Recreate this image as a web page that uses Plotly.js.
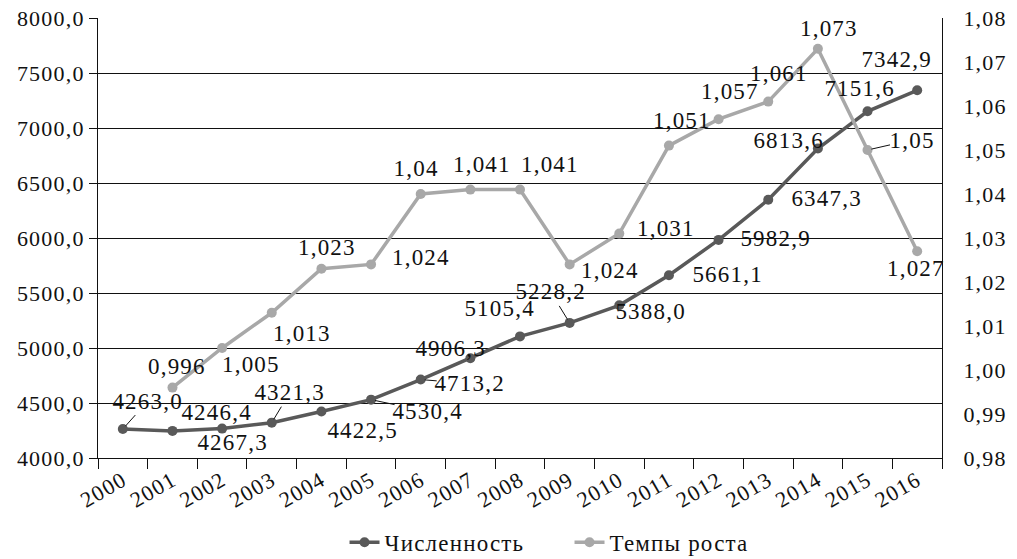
<!DOCTYPE html>
<html>
<head>
<meta charset="utf-8">
<script src="https://cdn.plot.ly/plotly-3.0.1.min.js"></script>
<style>html,body{margin:0;padding:0;background:#fff;}#chart{width:1017px;height:559px;}
#chart svg text{letter-spacing:1.2px;}</style>
</head>
<body>
<div id="chart"></div>
<script>
const years = ['2000','2001','2002','2003','2004','2005','2006','2007','2008','2009','2010','2011','2012','2013','2014','2015','2016'];
const population = [4263.0,4246.4,4267.3,4321.3,4422.5,4530.4,4713.2,4906.3,5105.4,5228.2,5388.0,5661.1,5982.9,6347.3,6813.6,7151.6,7342.9];
const growth = [null,0.996,1.005,1.013,1.023,1.024,1.04,1.041,1.041,1.024,1.031,1.051,1.057,1.061,1.073,1.05,1.027];
const seriesNames = ['Численность','Темпы роста'];

// label placement (pixel offsets dx, dy from point; leader line flag)
const popLabelPos = [[25,-28,1],[45,-18,0],[10,14,0],[18,-30,1],[41,19,0],[57,12,1],[49,4,1],[-20,-10,1],[-20,-28,0],[-19,-31,1],[31,6,0],[59,-1,0],[57,-1,0],[58,-1,0],[-29,-8,0],[-8,-23,0],[-21,-31,0]];
const growthLabelPos = [null,[5,-21,0],[29,16,0],[30,21,0],[6,-21,0],[50,-7,0],[-4,-26,0],[12,-25,0],[30,-25,0],[40,6,0],[47,-5,0],[13,-25,0],[11,-28,0],[11,-28,0],[11,-20,0],[44,-10,1],[-1,17,0]];

const FONT = "'Liberation Serif', serif";
const FS = 22;
const DARK = '#595959', LIGHT = '#a8a8a8';

function fmt(v){ return String(v).replace('.', ','); }
function fmt1(v){ return v.toFixed(1).replace('.', ','); }

const annotations = [];
function addLabels(vals, pos, yref, textFn){
  vals.forEach((v,i)=>{
    if (v === null || !pos[i]) return;
    const [dx,dy,lead] = pos[i];
    const a = {x: i, y: v, xref:'x', yref: yref, text: textFn(v),
      font:{family:FONT,size:FS+1,color:'#111'}};
    if (lead){
      Object.assign(a,{showarrow:true, ax:dx, ay:dy, arrowhead:0, arrowwidth:1, arrowcolor:'#111', standoff:4});
    } else {
      Object.assign(a,{showarrow:false, xshift:dx, yshift:-dy});
    }
    annotations.push(a);
  });
}
addLabels(population, popLabelPos, 'y', fmt1);
addLabels(growth, growthLabelPos, 'y2', fmt);

const traces = [
  {x: years, y: population, name: seriesNames[0], type:'scatter', mode:'lines+markers',
   line:{color:DARK,width:3.5}, marker:{color:DARK,size:10}, yaxis:'y'},
  {x: years, y: growth, name: seriesNames[1], type:'scatter', mode:'lines+markers',
   line:{color:LIGHT,width:3.5}, marker:{color:LIGHT,size:10}, yaxis:'y2', connectgaps:false}
];

const layout = {
  width:1017, height:559,
  margin:{l:98, r:75, t:18, b:101},
  paper_bgcolor:'#fff', plot_bgcolor:'#fff',
  separators:', ',
  font:{family:FONT, size:FS, color:'#111'},
  showlegend:true,
  legend:{orientation:'h', xref:'container', yref:'container', x:0.56, xanchor:'center', y:0.03, yanchor:'middle',
    entrywidth:180, entrywidthmode:'pixels',
    font:{family:FONT,size:FS+1,color:'#111'}, traceorder:'normal'},
  xaxis:{type:'category', range:[-0.5,16.5], autorange:false, automargin:false, tickson:'boundaries', ticks:'outside', ticklen:10, tickcolor:'#111', tickwidth:1,
    showline:true, linecolor:'#111', linewidth:1, tickangle:-30, showgrid:false,
    tickfont:{family:FONT,size:FS,color:'#111'}},
  yaxis:{range:[4000,8000], autorange:false, automargin:false, dtick:500, tickformat:'.1f', ticks:'outside', ticklen:8, tickcolor:'#111',
    showline:true, linecolor:'#111', linewidth:1, showgrid:true, gridcolor:'#111', gridwidth:1,
    zeroline:false, tickfont:{family:FONT,size:FS,color:'#111'}},
  yaxis2:{range:[0.98,1.08], autorange:false, automargin:false, dtick:0.01, tickformat:'.2f', overlaying:'y', side:'right',
    showgrid:false, zeroline:false, showline:true, linecolor:'#111', linewidth:1, ticks:'',
    ticklabelstandoff:16, tickfont:{family:FONT,size:FS,color:'#111'}},
  annotations: annotations
};

Plotly.newPlot('chart', traces, layout, {staticPlot:true, displayModeBar:false});
</script>
</body>
</html>
